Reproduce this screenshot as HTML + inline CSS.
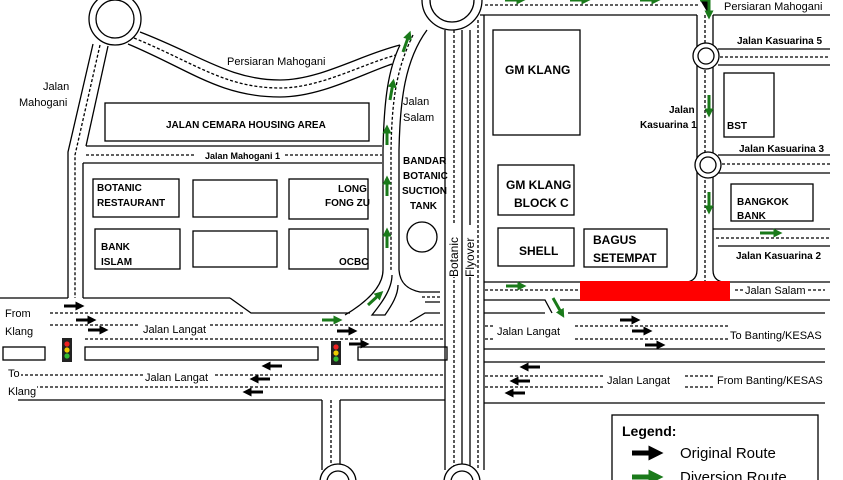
<!DOCTYPE html>
<html><head><meta charset="utf-8"><style>
html,body{margin:0;padding:0;background:#fff;}
svg{display:block;font-family:"Liberation Sans",sans-serif;}
.t{font-size:11px;fill:#000;}
.b{font-size:10px;font-weight:bold;fill:#000;}
.bb{font-size:12px;font-weight:bold;fill:#000;}
</style></head><body>
<svg width="843" height="480" viewBox="0 0 843 480" xmlns="http://www.w3.org/2000/svg">
<defs>
<marker id="ak" markerWidth="3" markerHeight="3" refX="1.5" refY="1.5" orient="auto"><path d="M0,0 L3,1.5 L0,3z" fill="#000"/></marker>
<marker id="ag" markerWidth="3" markerHeight="3" refX="1.5" refY="1.5" orient="auto"><path d="M0,0 L3,1.5 L0,3z" fill="#1a7a1a"/></marker>
</defs>
<g fill="none" stroke="#000" stroke-width="1.3">
<circle cx="115" cy="19" r="26" fill="#fff"/>
<circle cx="115" cy="19" r="19"/>
<path d="M93,44 L68,152 L68,298"/>
<path d="M108,46 L86,146"/>
<path d="M100,45 L75,155 L75,298" stroke-dasharray="3,2"/>
<path d="M83,163 L83,298"/>
<path d="M0,298 L68,298"/>
<path d="M140,32 C200,55 230,80 280,80 C320,80 360,55 400,45"/>
<path d="M128,44 C190,70 220,97 280,97 C320,97 360,75 392,64"/>
<path d="M134,38 C195,63 225,88 280,88 C320,88 360,65 396,55" stroke-dasharray="3,2"/>
<rect x="105" y="103" width="264" height="38"/>
<path d="M86,146 L382,146 M83,163 L382,163"/>
<path d="M86,155 L195,155 M285,155 L382,155" stroke-dasharray="3,2"/>
<rect x="93" y="179" width="86" height="38"/>
<rect x="193" y="180" width="84" height="37"/>
<rect x="289" y="179" width="79" height="40"/>
<rect x="95" y="229" width="85" height="40"/>
<rect x="193" y="231" width="84" height="36"/>
<rect x="289" y="229" width="79" height="40"/>
<path d="M83,298 L230,298"/>
<path d="M400,45 C388,70 384,100 383,150 L383,270 C383,285 370,300 345,315"/>
<path d="M427,30 C405,60 400,100 399,150 L399,270 C400,285 410,290 420,292 L440,292"/>
<path d="M413,35 C396,70 392,100 391,150 L391,270" stroke-dasharray="3,2"/>
<path d="M392,275 C392,290 380,305 372,315 L385,315 C392,305 398,295 398,285"/>
<circle cx="422" cy="237" r="15"/>
<path d="M425,302 L440,302 M440,313 L425,313 L410,322" />
<path d="M422,297 L440,297" stroke-dasharray="3,2"/>
<circle cx="452" cy="0" r="30" fill="#fff"/>
<circle cx="452" cy="0" r="22"/>
<path d="M445,30 L445,470 M462,30 L462,470 M470,30 L470,470 M484,15 L484,470"/>
<path d="M454,30 L454,470 M478,20 L478,470" stroke-dasharray="3,2"/>
<circle cx="462" cy="482" r="18" fill="#fff"/>
<circle cx="462" cy="482" r="11"/>
<path d="M480,15 L697,15 M713,15 L830,15"/>
<path d="M485,5 L700,5" stroke-dasharray="3,2"/>
<path d="M697,15 L697,270 C697,280 690,282 685,282"/>
<path d="M713,15 L713,270 C713,280 720,282 725,282"/>
<path d="M705,15 L705,282" stroke-dasharray="3,2"/>
<circle cx="706" cy="56" r="13" fill="#fff"/><circle cx="706" cy="56" r="8"/>
<circle cx="708" cy="165" r="13" fill="#fff"/><circle cx="708" cy="165" r="8"/>
<path d="M718,49 L830,49 M718,65 L830,65 M718,155 L830,155 M718,173 L830,173 M713,229 L830,229 M718,246 L830,246"/>
<path d="M720,57 L830,57 M722,164 L830,164 M716,238 L830,238" stroke-dasharray="3,2"/>
<rect x="493" y="30" width="87" height="105"/>
<rect x="724" y="73" width="50" height="64"/>
<rect x="498" y="165" width="76" height="50"/>
<rect x="498" y="228" width="76" height="38"/>
<rect x="584" y="229" width="83" height="38"/>
<rect x="731" y="184" width="82" height="37"/>
<path d="M484,282 L830,282 M484,300 L545,300 L552,313 M560,300 L830,300"/>
<path d="M485,290 L580,290 M735,290 L745,290 M808,290 L825,290" stroke-dasharray="3,2"/>
<path d="M230,298 L251,313 L350,313"/>
<path d="M50,313 L245,313 M50,325 L445,325 M85,339 L445,339" stroke-dasharray="3,2"/>
<rect x="3" y="347" width="42" height="13"/>
<rect x="85" y="347" width="233" height="13"/>
<rect x="358" y="347" width="89" height="13"/>
<path d="M15,375 L445,375 M25,387 L445,387" stroke-dasharray="3,2"/>
<path d="M18,400 L322,400 M340,400 L445,400"/>
<path d="M322,400 L322,470 M340,400 L340,470"/>
<path d="M331,400 L331,470" stroke-dasharray="3,2"/>
<circle cx="338" cy="482" r="18" fill="#fff"/><circle cx="338" cy="482" r="11"/>
<path d="M484,313 L545,313 M568,313 L825,313 M484,349 L825,349 M484,362 L825,362 M484,403 L825,403"/>
<path d="M485,326 L495,326 M575,326 L730,326 M485,339 L495,339 M575,339 L730,339 M485,376 L605,376 M685,376 L715,376 M485,387 L605,387 M685,387 L715,387" stroke-dasharray="3,2"/>
<rect x="612" y="415" width="206" height="70" fill="#fff"/>
</g>
<!-- white label backgrounds -->
<g fill="#fff">
<rect x="447" y="225" width="13" height="52"/>
<rect x="464" y="225" width="12" height="52"/>
<rect x="140" y="319" width="70" height="12"/>
<rect x="143" y="367" width="70" height="14"/>
<rect x="5" y="367" width="16" height="14"/>
<rect x="5" y="384" width="32" height="14"/>
</g>
<rect x="580" y="281" width="150" height="20" fill="#ff0000"/>
<g>
<rect x="62" y="338" width="10" height="24" fill="#222"/>
<circle cx="67" cy="344" r="2.6" fill="#e22"/><circle cx="67" cy="350" r="2.6" fill="#ec0"/><circle cx="67" cy="356" r="2.6" fill="#3b3"/>
<rect x="331" y="341" width="10" height="24" fill="#222"/>
<circle cx="336" cy="347" r="2.6" fill="#e22"/><circle cx="336" cy="353" r="2.6" fill="#ec0"/><circle cx="336" cy="359" r="2.6" fill="#3b3"/>
</g>
<g stroke="#000" stroke-width="3" marker-end="url(#ak)">
<path d="M64,306 L80,306"/><path d="M76,320 L92,320"/><path d="M88,330 L104,330"/>
<path d="M337,331 L353,331"/><path d="M349,344 L365,344"/>
<path d="M620,320 L636,320"/><path d="M632,331 L648,331"/><path d="M645,345 L661,345"/>
<path d="M282,366 L266,366"/><path d="M270,379 L254,379"/><path d="M263,392 L247,392"/>
<path d="M540,367 L524,367"/><path d="M530,381 L514,381"/><path d="M525,393 L509,393"/>
<path d="M632,453 L656,453" stroke-width="5"/>
</g>
<g stroke="#1a7a1a" stroke-width="3" marker-end="url(#ag)">
<path d="M387,248 L387,232"/><path d="M387,196 L387,180"/><path d="M387,145 L387,129"/>
<path d="M390,100 L393,83"/><path d="M403,52 L409,35"/>
<path d="M505,0 L521,0"/><path d="M570,0 L586,0"/><path d="M640,0 L656,0"/>
<path d="M700,0 L709,0 L709,15"/>
<path d="M709,95 L709,113"/><path d="M709,192 L709,210"/>
<path d="M760,233 L778,233"/><path d="M506,286 L522,286"/>
<path d="M553,298 L562,314"/>
<path d="M322,320 L338,320"/><path d="M368,305 L380,294"/>
<path d="M632,477 L656,477" stroke-width="5"/>
</g>
<g class="t">
<text x="43" y="90">Jalan</text><text x="19" y="106">Mahogani</text>
<text x="227" y="65">Persiaran Mahogani</text>
<text x="403" y="105">Jalan</text><text x="403" y="121">Salam</text>
<text x="724" y="10">Persiaran Mahogani</text>
<text x="5" y="317">From</text><text x="5" y="335">Klang</text>
<text x="143" y="333">Jalan Langat</text>
<text x="497" y="335">Jalan Langat</text>
<text x="730" y="339">To Banting/KESAS</text>
<text x="8" y="377">To</text><text x="8" y="395">Klang</text>
<text x="145" y="381">Jalan Langat</text>
<text x="607" y="384">Jalan Langat</text>
<text x="717" y="384">From Banting/KESAS</text>
<text x="745" y="294">Jalan Salam</text>
<text x="680" y="458" font-size="15">Original Route</text>
<text x="680" y="482" font-size="15">Diversion Route</text>
<text transform="translate(458,277) rotate(-90)" font-size="12">Botanic</text>
<text transform="translate(474,277) rotate(-90)" font-size="12">Flyover</text>
</g>
<g class="b">
<text x="166" y="128">JALAN CEMARA HOUSING AREA</text>
<text x="205" y="159" font-size="9">Jalan Mahogani 1</text>
<text x="97" y="191">BOTANIC</text><text x="97" y="206">RESTAURANT</text>
<text x="338" y="192">LONG</text><text x="325" y="206">FONG ZU</text>
<text x="101" y="250">BANK</text><text x="101" y="265">ISLAM</text>
<text x="339" y="265">OCBC</text>
<text x="403" y="164">BANDAR</text><text x="403" y="179">BOTANIC</text><text x="402" y="194">SUCTION</text><text x="410" y="209">TANK</text>
<text x="737" y="44">Jalan Kasuarina 5</text>
<text x="669" y="113">Jalan</text><text x="640" y="128">Kasuarina 1</text>
<text x="727" y="129">BST</text>
<text x="739" y="152">Jalan Kasuarina 3</text>
<text x="737" y="205">BANGKOK</text><text x="737" y="219">BANK</text>
<text x="736" y="259">Jalan Kasuarina 2</text>
</g>
<g class="bb">
<text x="505" y="74">GM KLANG</text>
<text x="506" y="189">GM KLANG</text><text x="514" y="207">BLOCK C</text>
<text x="519" y="255">SHELL</text>
<text x="593" y="244">BAGUS</text><text x="593" y="262">SETEMPAT</text>
<text x="622" y="436" font-size="14">Legend:</text>
</g>
</svg>
</body></html>
